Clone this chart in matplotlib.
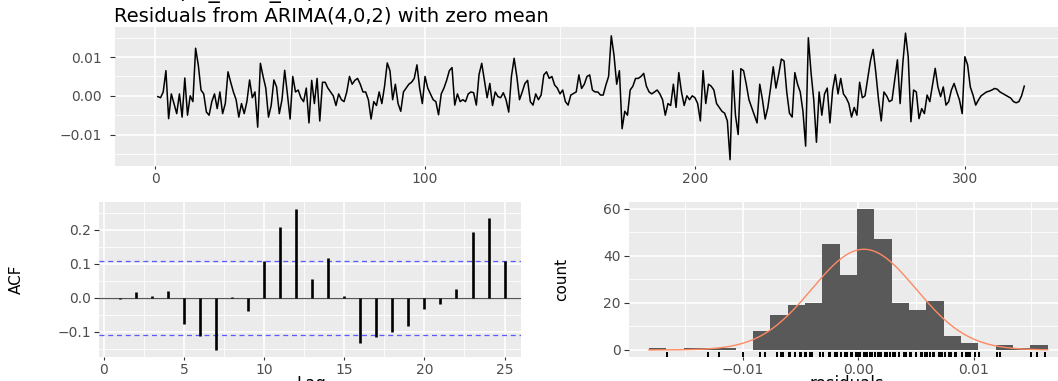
import numpy as np
import matplotlib.pyplot as plt
from matplotlib.ticker import FixedLocator, FixedFormatter

# ---------------- data ----------------
# residual series, in units of 1e-3 (t = 1..322)
residuals_milli = [
    -0.2, -0.5, 1.0, 6.5, -5.9, 0.5, -2.0, -4.6, 0.5, -5.5,
    4.6, -5.0, 0.0, -1.5, 12.3, 7.9, 1.5, 0.5, -4.2, -5.0,
    -1.5, 0.5, -3.3, 1.0, -4.6, -2.0, 6.2, 3.5, 1.0, -1.0,
    -5.5, -2.0, -4.6, -1.5, 4.1, -0.5, 1.0, -8.1, 8.4, 5.0,
    2.0, -5.5, -2.5, 4.1, 2.3, -4.6, -1.0, 6.6, 0.5, -6.0,
    5.0, 1.0, 1.5, -0.5, -1.5, 2.0, -7.0, 4.0, -2.0, 4.5,
    -6.5, 3.5, 3.5, 2.0, 1.0, 0.0, -2.5, 0.5, -1.0, -1.5,
    1.0, 5.0, 3.0, 4.0, 4.5, 3.0, 1.0, 1.0, -1.0, -6.0,
    -1.5, -2.5, 1.0, -2.0, 2.5, 8.5, 6.5, -1.0, 3.0, -2.0,
    -4.0, 1.0, 2.0, 3.0, 3.5, 4.5, 8.0, 2.0, -2.0, 5.0,
    2.0, 0.5, -1.0, -1.5, -4.9, 0.5, 2.0, 4.0, 6.5, 7.3,
    -2.4, 0.5, -1.5, -1.0, -1.5, 0.5, 1.0, 0.8, -2.4, 5.5,
    8.4, 4.0, -0.5, 3.2, -2.5, 1.0, -0.2, -0.5, 0.8, -1.0,
    -4.2, 5.0, 9.7, 5.0, -1.0, 1.0, 3.2, 4.0, -1.5, -2.4,
    0.5, -1.0, 0.2, 5.4, 6.2, 4.5, 5.0, 2.8, 2.0, 0.5,
    1.5, -1.5, -2.4, 0.2, 0.6, 1.0, 5.4, 1.9, 3.0, 5.0,
    5.4, 1.5, 1.0, 1.0, 0.2, 0.2, 2.8, 5.0, 15.5, 10.5,
    3.0, 6.5, -8.5, -4.0, -5.0, 1.5, 2.5, 4.5, 4.5, 5.0,
    5.8, 2.5, 1.0, 0.5, 1.0, 1.5, 0.5, -1.0, -5.0, -2.0,
    -2.5, 3.0, -3.0, 6.0, 1.0, -2.5, 0.0, -1.0, 0.0, -0.5,
    -2.0, -6.5, 6.5, -2.0, 3.0, 2.5, 1.5, -2.0, -3.0, -4.0,
    -4.5, -6.5, -16.5, 6.5, -5.0, -10.0, 7.0, 6.5, 3.0, -1.0,
    -3.0, -5.0, -7.0, 3.0, -1.0, -6.0, -3.0, 2.0, 7.5, 2.0,
    5.5, 9.5, 9.0, 1.0, -4.5, -5.5, 6.0, 3.0, 1.0, -4.0,
    -13.0, 15.0, 6.0, -1.0, -12.0, 1.0, -5.0, 0.5, 2.0, -7.0,
    1.5, 5.5, 0.5, 4.5, 0.5, -0.5, -2.0, -5.5, -3.0, -5.0,
    3.5, -0.5, 0.0, 4.5, 9.0, 12.0, 6.0, -1.0, -6.5, 1.0,
    0.0, -1.5, -1.1, 4.0, 9.3, -2.0, 8.4, 16.2, 10.1, -6.7,
    1.5, 1.0, -5.9, -3.3, -4.6, 0.2, -1.5, 2.8, 7.1, 2.3,
    -0.2, 2.3, -2.4, -1.5, 1.5, 3.2, 1.0, -1.1, -4.6, 10.1,
    8.0, 2.3, 0.2, -2.4, -1.1, 0.0, 0.5, 1.0, 1.2, 1.5,
    1.9, 1.7, 1.0, 0.6, 0.2, -0.2, -0.6, -1.5, -1.8, -1.5,
    0.0, 2.5,
]

acf_lags = list(range(1, 26))
acf_values = [-0.003, 0.017, 0.006, 0.019, -0.077, -0.111, -0.153, 0.002, -0.039, 0.108,
              0.207, 0.261, 0.056, 0.117, 0.006, -0.133, -0.114, -0.100, -0.082, -0.032,
              -0.017, 0.025, 0.194, 0.233, 0.108]
acf_limit = 0.109

hist_start = -0.0181
hist_binwidth = 0.0015
hist_counts = [1, 0, 1, 1, 1, 0, 8, 15, 19, 20, 45, 32, 60, 47, 20, 17, 21, 6, 3, 0, 2, 1, 2]
normal_mean = 0.0005
normal_sd = 0.0045

title = "Residuals from ARIMA(4,0,2) with zero mean"
call_text = "checkresiduals(fit_auto_su)"

residuals = np.array(residuals_milli) / 1000
t = np.arange(1, len(residuals) + 1)

W, H = 1058, 381
fig = plt.figure(figsize=(W / 100, H / 100), dpi=100)


def box(x0, y0, x1, y1):
    # pixel box -> figure fraction
    return [x0 / W, 1 - y1 / H, (x1 - x0) / W, (y1 - y0) / H]


def gg_style(ax, ypad):
    ax.set_facecolor("#EBEBEB")
    for s in ax.spines.values():
        s.set_visible(False)
    ax.grid(which="major", color="white", lw=1.2)
    ax.grid(which="minor", color="white", lw=0.6)
    ax.set_axisbelow(True)
    ax.tick_params(which="major", color="#333333", labelcolor="#4D4D4D", labelsize=10)
    ax.tick_params(axis="x", which="major", length=2.5, pad=1.5)
    ax.tick_params(axis="y", which="major", length=3.5, pad=ypad)
    ax.tick_params(which="minor", length=0)


def expand(lo, hi):
    r = hi - lo
    return lo - 0.05 * r, hi + 0.05 * r


def set_ticks(ax, axis, major, labels, minor):
    a = ax.xaxis if axis == "x" else ax.yaxis
    a.set_major_locator(FixedLocator(major))
    a.set_major_formatter(FixedFormatter(labels))
    a.set_minor_locator(FixedLocator(minor))


# ------------ top: residual time plot ------------
ax_ts = fig.add_axes(box(114.5, 26.8, 1067.6, 166))
gg_style(ax_ts, 5.5)
ax_ts.plot(t, residuals, color="black", lw=1.1)
ax_ts.set_xlim(*expand(t.min(), t.max()))
ax_ts.set_ylim(*expand(residuals.min(), residuals.max()))
set_ticks(ax_ts, "x", [0, 100, 200, 300], ["0", "100", "200", "300"], [50, 150, 250])
set_ticks(ax_ts, "y", [-0.01, 0, 0.01], ["\u22120.01", "0.00", "0.01"], [-0.015, -0.005, 0.005, 0.015])
ax_ts.set_title(title, loc="left", fontsize=14, pad=4)

# the call line above the plot is cropped in the picture, only its lower edge shows
fig.text(13 / W, 1 + 2 / H, call_text, fontsize=16, va="baseline")

# ------------ bottom left: ACF ------------
ax_acf = fig.add_axes(box(99, 201.8, 520.6, 357))
gg_style(ax_acf, 2.5)
ax_acf.axhline(0, color="#555555", lw=0.9)
ax_acf.axhline(acf_limit, color="#5A5AFF", lw=0.9, ls=(0, (4, 3)))
ax_acf.axhline(-acf_limit, color="#5A5AFF", lw=0.9, ls=(0, (4, 3)))
ax_acf.vlines(acf_lags, 0, acf_values, color="black", lw=1.9)
ax_acf.set_xlim(-0.3, 26.0)
ax_acf.set_ylim(*expand(min(acf_values), max(acf_values)))
set_ticks(ax_acf, "x", [0, 5, 10, 15, 20, 25], ["0", "5", "10", "15", "20", "25"],
          [2.5, 7.5, 12.5, 17.5, 22.5])
set_ticks(ax_acf, "y", [-0.1, 0, 0.1, 0.2], ["\u22120.1", "0.0", "0.1", "0.2"],
          [-0.15, -0.05, 0.05, 0.15, 0.25])
ax_acf.set_xlabel("Lag", fontsize=12)
ax_acf.set_ylabel("ACF", fontsize=11)
ax_acf.xaxis.set_label_coords(0.503, -0.115)
ax_acf.yaxis.set_label_coords(-0.179, 0.5)

# ------------ bottom right: histogram ------------
ax_hist = fig.add_axes(box(629, 201.8, 1067.6, 357))
gg_style(ax_hist, 2.5)
edges = hist_start + hist_binwidth * np.arange(len(hist_counts) + 1)
ax_hist.bar(edges[:-1], hist_counts, width=hist_binwidth, align="edge", color="#595959")
n = sum(hist_counts)
xs = np.linspace(edges[0], edges[-1], 300)
dens = n * hist_binwidth * np.exp(-0.5 * ((xs - normal_mean) / normal_sd) ** 2) / (normal_sd * np.sqrt(2 * np.pi))
ax_hist.plot(xs, dens, color="#ff8a62", lw=1.0)
ax_hist.vlines(residuals, 0, 0.03, transform=ax_hist.get_xaxis_transform(), color="black", lw=1.4)
ax_hist.set_xlim(*expand(edges[0], edges[-1]))
ax_hist.set_ylim(*expand(0, max(hist_counts)))
set_ticks(ax_hist, "x", [-0.01, 0, 0.01], ["\u22120.01", "0.00", "0.01"], [-0.015, -0.005, 0.005, 0.015])
set_ticks(ax_hist, "y", [0, 20, 40, 60], ["0", "20", "40", "60"], [10, 30, 50])
ax_hist.set_xlabel("residuals", fontsize=12)
ax_hist.set_ylabel("count", fontsize=11)
ax_hist.xaxis.set_label_coords(0.496, -0.115)
ax_hist.yaxis.set_label_coords(-0.137, 0.5)

fig.savefig("out.png", dpi=100)
